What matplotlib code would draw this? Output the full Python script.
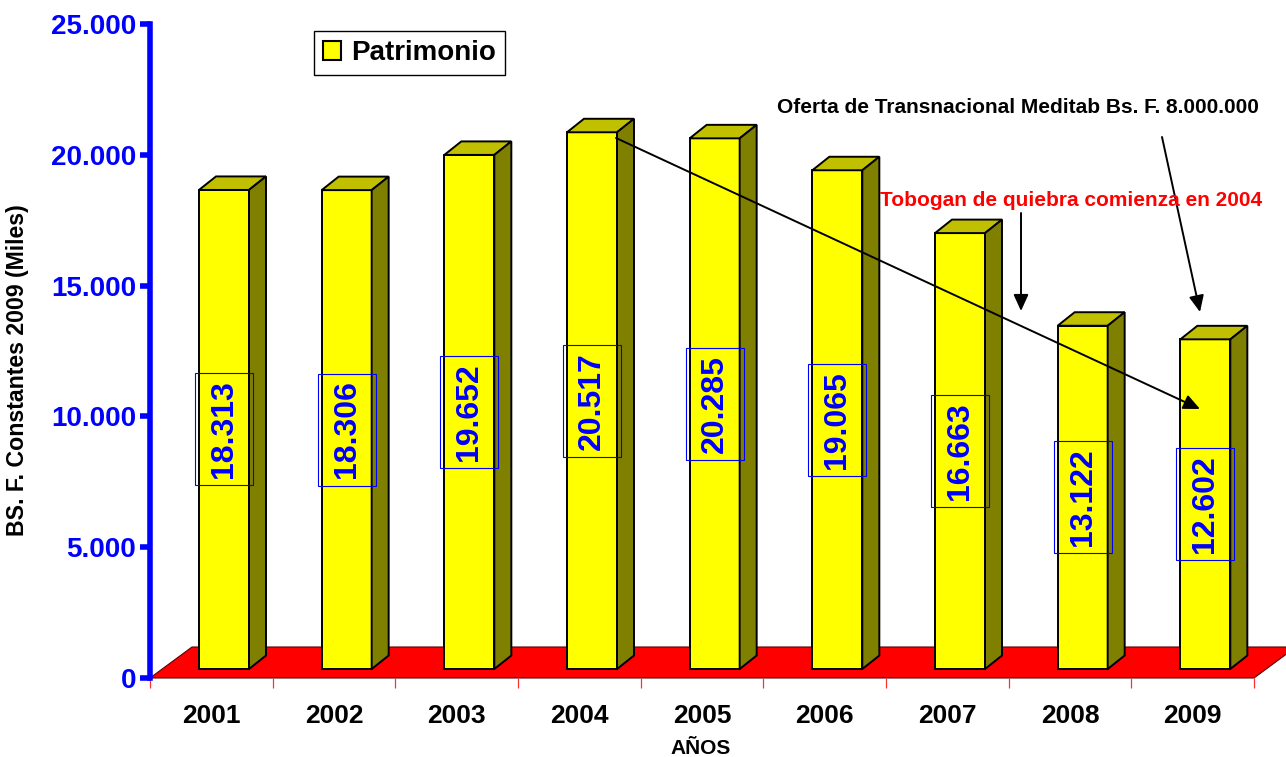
import matplotlib
matplotlib.use("Agg")
import matplotlib.pyplot as plt
import matplotlib.transforms as mtransforms
from matplotlib.patches import Polygon, Patch, Rectangle
from matplotlib.ticker import FixedLocator

# ---- data ----
years = ["2001", "2002", "2003", "2004", "2005", "2006", "2007", "2008", "2009"]
patrimonio = [18313, 18306, 19652, 20517, 20285, 19065, 16663, 13122, 12602]
y_ticks = [0, 5000, 10000, 15000, 20000, 25000]
y_tick_labels = ["0", "5.000", "10.000", "15.000", "20.000", "25.000"]
legend_label = "Patrimonio"
y_label = "BS. F. Constantes 2009 (Miles)"
x_label = "AÑOS"
note_offer = "Oferta de Transnacional Meditab Bs. F. 8.000.000"
note_slide = "Tobogan de quiebra comienza en 2004"

# ---- style ----
W, H = 1286, 757
plt.rcParams["font.family"] = ["Liberation Sans", "DejaVu Sans"]
plt.rcParams["font.weight"] = "bold"

fig = plt.figure(figsize=(W / 100, H / 100), dpi=100)
ax = fig.add_axes([150 / W, 79 / H, 1104 / W, 654 / H])
n = len(years)
ax.set_xlim(0, n)
ax.set_ylim(0, 25000)

px_x = 1104 / n          # pixels per category
px_y = 654 / 25000       # pixels per unit

# 3D geometry (style constants)
bar_off = 49 / px_x
bar_w = 50 / px_x
base = 9 / px_y
ddx = 17 / px_x
ddy = 13.5 / px_y
fdx = 42 / px_x
fdy = 31 / px_y

FRONT = "#FFFF00"
TOP = "#C0C000"
SIDE = "#808000"

# floor
floor = Polygon([(0, 0), (n, 0), (n + fdx, fdy), (fdx, fdy)], closed=True,
                facecolor="#FF0000", edgecolor="#5a0000", lw=0.8,
                clip_on=False, zorder=1)
ax.add_patch(floor)

# bars
xs = [i + bar_off for i in range(n)]
ax.bar(xs, patrimonio, width=bar_w, bottom=base, align="edge",
       color=FRONT, edgecolor="black", linewidth=1.4, zorder=3)
for x, v in zip(xs, patrimonio):
    top = base + v
    xr = x + bar_w
    ax.add_patch(Polygon([(x, top), (x + ddx, top + ddy), (xr + ddx, top + ddy), (xr, top)],
                         closed=True, facecolor=TOP, edgecolor="black", lw=1.4, zorder=3))
    ax.add_patch(Polygon([(xr, base), (xr + ddx, base + ddy), (xr + ddx, top + ddy), (xr, top)],
                         closed=True, facecolor=SIDE, edgecolor="black", lw=1.4, zorder=3))
    cx, cy = x + bar_w / 2, base + v / 2
    ax.text(cx, cy, f"{v:,}".replace(",", "."),
            rotation=90, ha="center", va="center", color="#0000FF",
            fontsize=23, fontweight="bold", zorder=5)
    box_tr = fig.dpi_scale_trans + mtransforms.ScaledTranslation(cx, cy, ax.transData)
    ax.add_patch(Rectangle((-0.29, -0.56), 0.58, 1.12, transform=box_tr,
                           facecolor="none", edgecolor="#0000FF", lw=0.8, zorder=5))

# axes styling
for s in ["top", "right", "bottom"]:
    ax.spines[s].set_visible(False)
ax.spines["left"].set_color("#0000FF")
ax.spines["left"].set_linewidth(4)
ax.spines["left"].set_zorder(6)
ax.set_yticks(y_ticks)
ax.set_yticklabels(y_tick_labels)
ax.tick_params(axis="y", colors="#0000FF", length=7, width=4, pad=3,
               labelsize=20)
for t in ax.get_yticklabels():
    t.set_fontweight("bold")

ax.set_xticks([i + 0.5 for i in range(n)])
ax.set_xticklabels(years)
ax.xaxis.set_minor_locator(FixedLocator(list(range(n + 1))))
ax.tick_params(axis="x", which="major", length=0, pad=19, labelsize=19,
               labelcolor="black")
ax.tick_params(axis="x", which="minor", length=7.5, width=0.9, color="#FF3030")
for t in ax.get_xticklabels():
    t.set_fontweight("bold")

# labels
fig.text(18 / W, 1 - 370 / H, y_label, rotation=90, ha="center", va="center",
         fontsize=16.7, fontweight="bold")
fig.text(701 / W, 1 - 749 / H, x_label, ha="center", va="center",
         fontsize=15, fontweight="bold")

# legend
leg = ax.legend(handles=[Patch(facecolor=FRONT, edgecolor="black", linewidth=1.5,
                               label=legend_label)],
                loc="upper left", bbox_to_anchor=(314 / W, 1 - 31 / H),
                bbox_transform=fig.transFigure, borderaxespad=0,
                prop={"weight": "bold", "size": 20},
                handlelength=0.65, handleheight=0.65, handletextpad=0.35,
                borderpad=0.33, fancybox=False, framealpha=1)
leg.get_frame().set_edgecolor("black")
leg.get_frame().set_linewidth(1.0)

# annotations (pixel -> data helper)
def pd(px, py):
    return ((px - 150) / px_x, (678 - py) / px_y)

arrow = dict(arrowstyle="-|>,head_length=0.55,head_width=0.25", color="black",
             lw=1.4, mutation_scale=18, shrinkA=0, shrinkB=0)

ax.annotate("", xy=pd(1200, 409), xytext=pd(616, 138), arrowprops=arrow, zorder=7)
ax.annotate("", xy=pd(1200, 312), xytext=pd(1162, 137), arrowprops=arrow, zorder=7)
ax.annotate("", xy=pd(1021, 311), xytext=pd(1021, 213), arrowprops=arrow, zorder=7)

ax.text(*pd(1017.5, 108), note_offer, ha="center", va="center", fontsize=15,
        fontweight="bold", color="black", zorder=7)
ax.text(*pd(1071, 201), note_slide, ha="center", va="center", fontsize=15,
        fontweight="bold", color="#FF0000", zorder=7)

fig.savefig("out.png", dpi=100)
